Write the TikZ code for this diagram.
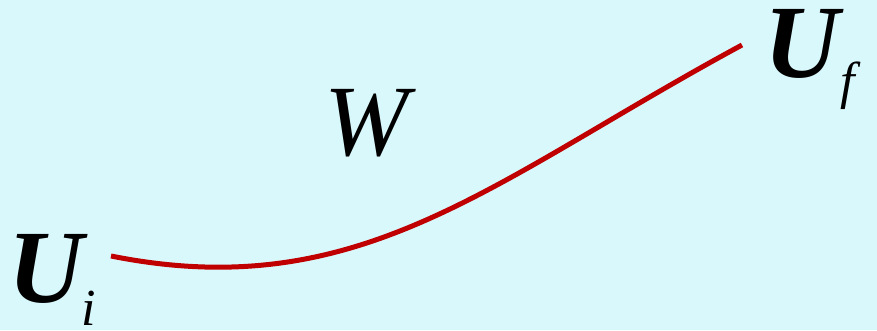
\documentclass[tikz,border=0pt]{standalone}
\usepackage{fontspec}
\setmainfont{Liberation Serif}
\definecolor{bgc}{HTML}{D9F8FC}
\definecolor{curvec}{HTML}{C00000}
\begin{document}
\begin{tikzpicture}[x=1pt,y=1pt,
  big/.style={inner sep=0pt, anchor=base west, font=\fontsize{104}{104}\selectfont\bfseries\itshape},
  sub/.style={inner sep=0pt, anchor=base west, font=\fontsize{52}{52}\selectfont\itshape},
  wlab/.style={inner sep=0pt, anchor=base west, font=\fontsize{101}{101}\selectfont\itshape}]
\fill[bgc] (0,0) rectangle (877,330);
\useasboundingbox (0,0) rectangle (877,330);
\coordinate (a) at (111,74);
\coordinate (b) at (742,285);
\draw[curvec, line width=5pt] (a) .. controls (361,24) and (492,150) .. (b);
\node[big] (ui) at (8,28) {U};
\node[sub] (si) at (81,5) {i};
\node[big] (uf) at (764,252) {U};
\node[sub] (sf) at (840,232) {f};
\node[wlab] (w) at (324,175) {W};
\end{tikzpicture}
\end{document}
